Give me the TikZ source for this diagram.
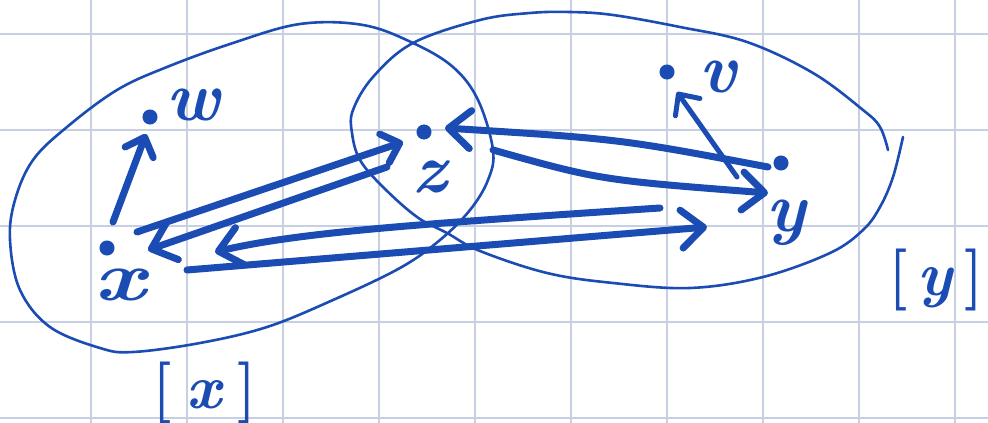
\documentclass[tikz,border=0pt]{standalone}
\usepackage{fontspec}
\usetikzlibrary{arrows.meta}
\definecolor{ink}{RGB}{27,76,180}
\definecolor{gridc}{RGB}{198,208,226}
\begin{document}
\begin{tikzpicture}[x=1pt,y=-1pt,
  outline/.style={draw=ink, line width=2.6pt, line cap=round, line join=round},
  conn/.style={draw=ink, line width=7pt, line cap=round, line join=round,
    -{Straight Barb[round,length=22pt,width=38pt]}},
  smallconn/.style={conn, -{Straight Barb[round,length=16pt,width=30pt]}},
  ptdot/.style={circle, fill=ink, draw=ink, line width=1pt, inner sep=0pt, minimum size=14pt},
  lab/.style={text=ink, inner sep=0pt, font=\fontsize{70}{80}\selectfont\bfseries\itshape},
  brlab/.style={text=ink, inner sep=0pt, font=\fontsize{62}{70}\selectfont\bfseries},
  gridline/.style={draw=gridc, line width=2pt}
]
\useasboundingbox (0,0) rectangle (988,423);
\fill[white] (0,0) rectangle (988,423);
\foreach \gx in {91,187,...,955} \draw[gridline] (\gx,0) -- (\gx,423);
\foreach \gy in {34,130,...,418} \draw[gridline] (0,\gy) -- (988,\gy);

% left class [x]
\draw[outline] plot[smooth cycle, tension=0.6] coordinates {(300,24) (363,25) (413,43) (453,67) (478,100) (493,150) (488,180) (470,210) (440,240) (400,268) (333,300) (267,327) (200,343) (133,352) (100,348) (50,327) (20,290) (10,240) (15,200) (33,160) (67,127) (117,90) (167,67) (233,43)};
% right class [y] (open at the right)
\draw[outline] plot[smooth, tension=0.6] coordinates {(888,150) (880,127) (863,110) (813,73) (747,42) (680,27) (613,15) (570,12) (530,13) (480,20) (413,43) (373,77) (353,110) (352,133) (360,160) (383,187) (417,217) (447,233) (480,251) (547,273) (613,283) (690,288) (763,277) (830,253) (863,230) (880,207) (893,177) (903,137)};

% points
\node[ptdot] (x) at (107,248) {};
\node[ptdot] (w) at (150,117) {};
\node[ptdot] (z) at (424,132) {};
\node[ptdot] (v) at (667,72) {};
\node[ptdot] (y) at (781,163) {};

% labels
\node[lab, xscale=1.3] (xl) at (120,285) {x};
\node[lab] (wl) at (193,105) {w};
\node[lab] (zl) at (430,177) {z};
\node[lab] (vl) at (718,77) {v};
\node[lab] (yl) at (786,223) {y};
\node[brlab] (cx) at (205,393) {[\hspace{14pt}\textit{x}\hspace{14pt}]};
\node[brlab] (cy) at (936,280) {[\hspace{10pt}\textit{y}\hspace{10pt}]};

% connector ends
\coordinate (xw0) at (113,222); \coordinate (xw1) at (146,134);
\coordinate (xz0) at (137,232); \coordinate (xz1) at (403,142);
\coordinate (zx0) at (387,167); \coordinate (zx1) at (148,250);
\coordinate (yx0) at (660,208); \coordinate (yx1) at (215,252);
\coordinate (xy0) at (187,270); \coordinate (xy1) at (707,227);
\coordinate (yz0) at (768,167); \coordinate (yz1) at (445,128);
\coordinate (zy0) at (493,150); \coordinate (zy1) at (768,193);
\coordinate (yv0) at (737,177); \coordinate (yv1) at (677,92);

\draw[smallconn] (xw0) -- (xw1);
\draw[smallconn] (xz0) -- (xz1);
\draw[conn] (zx0) -- (zx1);
\draw[conn] (yx0) .. controls (420,224) and (300,232) .. (yx1);
\draw[conn] (xy0) -- (xy1);
\draw[conn] (yz0) .. controls (620,139) .. (yz1);
\draw[conn] (zy0) .. controls (600,180) .. (zy1);
\draw[smallconn, line width=5pt] (yv0) -- (yv1);
\end{tikzpicture}
\end{document}
